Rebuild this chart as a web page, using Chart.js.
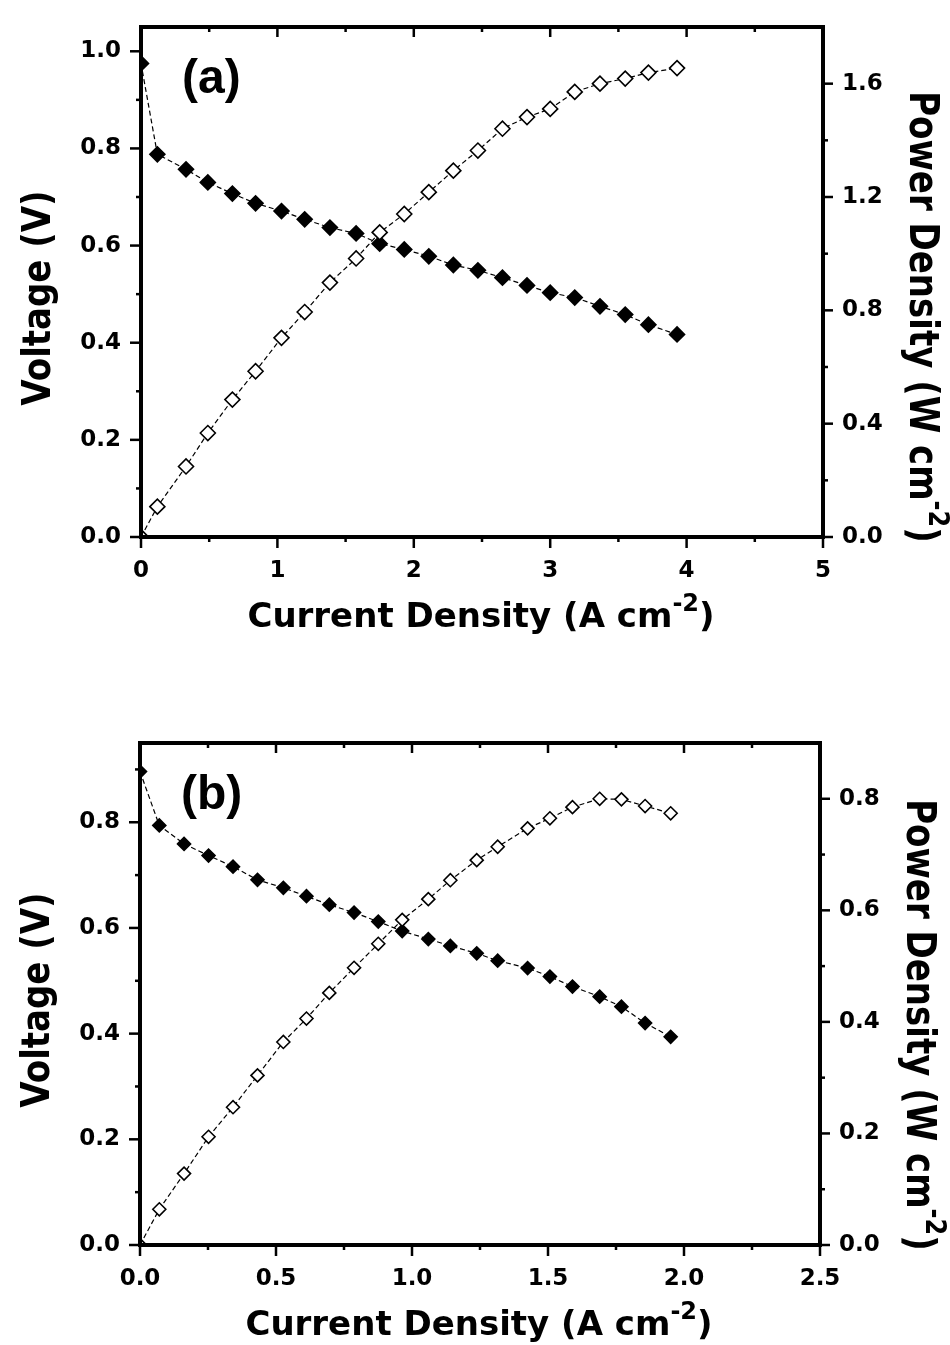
<!DOCTYPE html>
<html lang="en">
<head>
<meta charset="UTF-8">
<title>Voltage and power density vs current density</title>
<script src="https://cdn.jsdelivr.net/npm/chart.js"></script>
<style>
  html, body { margin: 0; padding: 0; background: #fff; }
  .panel { position: absolute; left: 0; width: 950px; }
</style>
</head>
<body>
<div class="panel" style="top:0; height:672px;"><canvas id="chartA" width="950" height="672"></canvas></div>
<div class="panel" style="top:672px; height:673px;"><canvas id="chartB" width="950" height="673"></canvas></div>

<script>
// ---- panel (a) ----
const aCurrent = [0, 0.12, 0.33, 0.49, 0.67, 0.84, 1.03, 1.20, 1.385, 1.577, 1.75, 1.93, 2.11, 2.29, 2.47, 2.65, 2.83, 3.00, 3.18, 3.365, 3.55, 3.72, 3.93];
const aVoltage = [0.975, 0.788, 0.757, 0.730, 0.707, 0.687, 0.671, 0.654, 0.637, 0.625, 0.604, 0.592, 0.578, 0.560, 0.549, 0.534, 0.518, 0.503, 0.493, 0.475, 0.458, 0.437, 0.417];
const aPower   = [0, 0.107, 0.249, 0.367, 0.485, 0.585, 0.703, 0.794, 0.898, 0.983, 1.075, 1.140, 1.217, 1.293, 1.364, 1.441, 1.482, 1.511, 1.571, 1.600, 1.618, 1.639, 1.655];
const aXMajor  = [0, 1, 2, 3, 4, 5];
const aXMinor  = [0.5, 1.5, 2.5, 3.5, 4.5];
const aYMajor  = [0, 0.2, 0.4, 0.6, 0.8, 1.0];
const aYMinor  = [0.1, 0.3, 0.5, 0.7, 0.9];
const aY2Major = [0, 0.4, 0.8, 1.2, 1.6];
const aY2Minor = [0.2, 0.6, 1.0, 1.4];

// ---- panel (b) ----
const bCurrent = [0, 0.071, 0.162, 0.252, 0.342, 0.432, 0.527, 0.612, 0.696, 0.787, 0.876, 0.964, 1.06, 1.141, 1.238, 1.315, 1.425, 1.507, 1.59, 1.69, 1.77, 1.857, 1.951];
const bVoltage = [0.896, 0.794, 0.759, 0.737, 0.716, 0.691, 0.676, 0.660, 0.644, 0.629, 0.612, 0.594, 0.579, 0.566, 0.552, 0.538, 0.524, 0.508, 0.489, 0.470, 0.451, 0.420, 0.394];
const bPower   = [0, 0.064, 0.128, 0.194, 0.247, 0.304, 0.364, 0.406, 0.452, 0.497, 0.540, 0.583, 0.620, 0.654, 0.690, 0.714, 0.747, 0.765, 0.785, 0.800, 0.799, 0.787, 0.774];
const bXMajor  = [0, 0.5, 1.0, 1.5, 2.0, 2.5];
const bXMinor  = [0.25, 0.75, 1.25, 1.75, 2.25];
const bYMajor  = [0, 0.2, 0.4, 0.6, 0.8];
const bYMinor  = [0.1, 0.3, 0.5, 0.7, 0.9];
const bY2Major = [0, 0.2, 0.4, 0.6, 0.8];
const bY2Minor = [0.1, 0.3, 0.5, 0.7];

const FONT = '"DejaVu Sans", sans-serif';

function pts(xs, ys) {
    return xs.map((x, i) => ({ x: x, y: ys[i] }));
}

// frame, tick marks, axis titles with superscript, panel letter
const axisDecor = {
    id: 'axisDecor',
    afterDraw(chart, args, o) {
        const ctx = chart.ctx, a = chart.chartArea, s = chart.scales;
        const seg = (x1, y1, x2, y2) => { ctx.beginPath(); ctx.moveTo(x1, y1); ctx.lineTo(x2, y2); ctx.stroke(); };
        ctx.save();
        ctx.strokeStyle = '#000';
        ctx.fillStyle = '#000';
        ctx.lineWidth = 2.5;
        o.xMajor.forEach(v => { const p = s.x.getPixelForValue(v); seg(p, a.bottom, p, a.bottom + 11); seg(p, a.top, p, a.top + 10); });
        o.xMinor.forEach(v => { const p = s.x.getPixelForValue(v); seg(p, a.bottom, p, a.bottom + 5); seg(p, a.top, p, a.top + 5); });
        o.yMajor.forEach(v => { const p = s.y.getPixelForValue(v); seg(a.left - 11, p, a.left, p); });
        o.yMinor.forEach(v => { const p = s.y.getPixelForValue(v); seg(a.left - 5, p, a.left, p); });
        o.y2Major.forEach(v => { const p = s.y2.getPixelForValue(v); seg(a.right, p, a.right + 10, p); });
        o.y2Minor.forEach(v => { const p = s.y2.getPixelForValue(v); seg(a.right, p, a.right + 5, p); });

        ctx.lineWidth = 4;
        ctx.strokeRect(a.left, a.top, a.right - a.left, a.bottom - a.top);

        const midX = (a.left + a.right) / 2, midY = (a.top + a.bottom) / 2;
        drawTitle(ctx, ['Current Density (A cm', '-2', ')'], midX - 1, a.bottom + 90, 0, 1);
        drawTitle(ctx, ['Voltage (V)'], a.left - 91, midY + o.leftShift, -Math.PI / 2, 1.15);
        drawTitle(ctx, ['Power Density (W cm', '-2', ')'], a.right + 87, midY + o.rightShift, Math.PI / 2, 1.2);

        ctx.font = 'bold 48px "Liberation Sans", sans-serif';
        ctx.textAlign = 'left';
        ctx.textBaseline = 'alphabetic';
        ctx.fillText(o.panel, a.left + 41, a.top + 66);
        ctx.restore();
    }
};

// parts: [normal, superscript, normal]
function drawTitle(ctx, parts, x, y, angle, stretch) {
    ctx.save();
    ctx.translate(x, y);
    ctx.rotate(angle);
    ctx.scale(1, stretch);
    ctx.textAlign = 'left';
    ctx.textBaseline = 'alphabetic';
    const fonts = parts.map((p, i) => i === 1 ? 'bold 24px ' + FONT : 'bold 34px ' + FONT);
    let total = 0;
    parts.forEach((p, i) => { ctx.font = fonts[i]; total += ctx.measureText(p).width; });
    let cx = -total / 2;
    parts.forEach((p, i) => {
        ctx.font = fonts[i];
        ctx.fillText(p, cx, i === 1 ? -16 : 0);
        cx += ctx.measureText(p).width;
    });
    ctx.restore();
}

function axis(cfg) {
    const isMajor = v => cfg.major.some(m => Math.abs(m - v) < 1e-9);
    return {
        type: 'linear',
        position: cfg.position,
        min: 0,
        max: cfg.max,
        bounds: 'data',
        grid: { display: false, drawTicks: false, drawOnChartArea: false },
        border: { display: false },
        afterBuildTicks: (scale) => {
            scale.ticks = cfg.major.concat(cfg.minor).sort((p, q) => p - q).map(v => ({ value: v }));
        },
        // fixed box sizes so the plot frame lands where the original one is
        afterFit: (scale) => {
            if (cfg.position === 'bottom') {
                scale.height = cfg.size;
                scale.paddingLeft = 0;
                scale.paddingRight = 0;
            } else {
                scale.width = cfg.size;
                scale.paddingTop = 0;
                scale.paddingBottom = 0;
            }
        },
        ticks: {
            autoSkip: false,
            maxRotation: 0,
            padding: cfg.padding,
            color: '#000',
            font: { family: FONT, size: 23, weight: 'bold' },
            callback: (v) => isMajor(v) ? cfg.fmt(v) : ''
        }
    };
}

function makeChart(id, d) {
    const pointCommon = {
        pointStyle: 'rectRot',
        pointRadius: d.r,
        pointBorderColor: '#000',
        pointBorderWidth: 1.6,
        borderColor: '#000',
        borderWidth: 1.2,
        borderDash: [5, 3],
        showLine: true,
        tension: 0
    };
    return new Chart(document.getElementById(id), {
        type: 'scatter',
        data: {
            datasets: [
                Object.assign({ label: 'Power density', data: pts(d.current, d.power), yAxisID: 'y2', pointBackgroundColor: '#fff' }, pointCommon),
                Object.assign({ label: 'Voltage', data: pts(d.current, d.voltage), yAxisID: 'y', pointBackgroundColor: '#000' }, pointCommon)
            ]
        },
        options: {
            responsive: false,
            animation: false,
            events: [],
            layout: { padding: { top: d.top, left: 0, right: 0, bottom: 0 } },
            plugins: {
                legend: { display: false },
                tooltip: { enabled: false },
                axisDecor: {
                    panel: d.panel,
                    xMajor: d.xMajor, xMinor: d.xMinor,
                    yMajor: d.yMajor, yMinor: d.yMinor,
                    y2Major: d.y2Major, y2Minor: d.y2Minor,
                    leftShift: d.leftShift, rightShift: d.rightShift
                }
            },
            scales: {
                x: axis({ position: 'bottom', max: d.xMax, major: d.xMajor, minor: d.xMinor, padding: 20, fmt: d.xFmt, size: d.xSize }),
                y: axis({ position: 'left', max: d.yMax, major: d.yMajor, minor: d.yMinor, padding: 20, fmt: v => v.toFixed(1), size: d.leftSize }),
                y2: axis({ position: 'right', max: d.y2Max, major: d.y2Major, minor: d.y2Minor, padding: 19, fmt: v => v.toFixed(1), size: d.rightSize })
            }
        },
        plugins: [axisDecor]
    });
}

makeChart('chartA', {
    panel: '(a)', current: aCurrent, voltage: aVoltage, power: aPower, r: 7.5,
    xMax: 5, yMax: 1.05, y2Max: 1.8,
    xMajor: aXMajor, xMinor: aXMinor, yMajor: aYMajor, yMinor: aYMinor, y2Major: aY2Major, y2Minor: aY2Minor,
    xFmt: v => String(Math.round(v)),
    top: 27, xSize: 135, leftSize: 141, rightSize: 127,
    leftShift: 16, rightShift: 35
});

makeChart('chartB', {
    panel: '(b)', current: bCurrent, voltage: bVoltage, power: bPower, r: 6.5,
    xMax: 2.5, yMax: 0.95, y2Max: 0.9,
    xMajor: bXMajor, xMinor: bXMinor, yMajor: bYMajor, yMinor: bYMinor, y2Major: bY2Major, y2Minor: bY2Minor,
    xFmt: v => v.toFixed(1),
    top: 71, xSize: 100, leftSize: 140, rightSize: 130,
    leftShift: 6, rightShift: 31
});
</script>
</body>
</html>
